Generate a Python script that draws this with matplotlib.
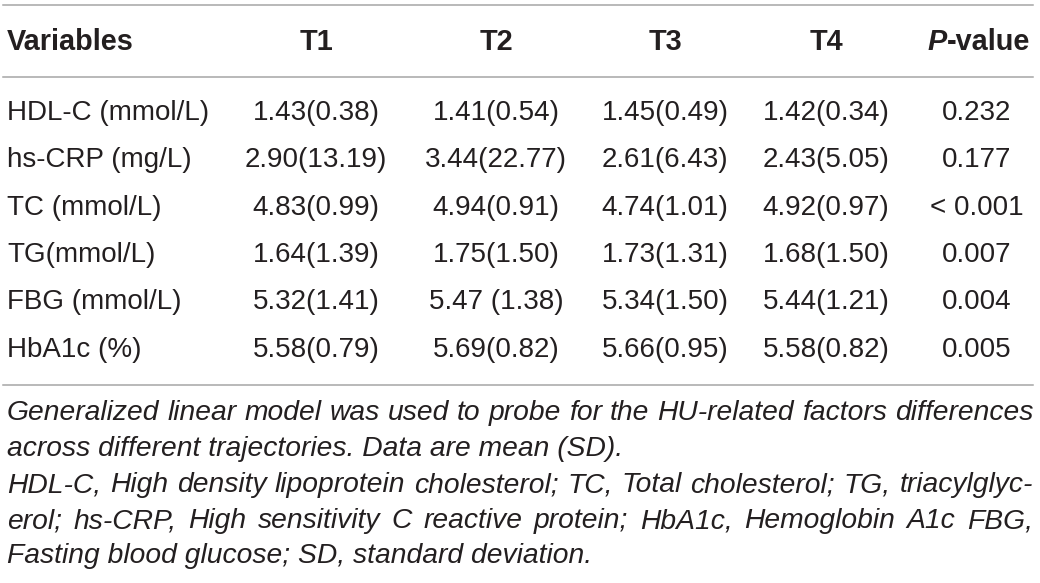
import matplotlib
matplotlib.use("Agg")
import matplotlib.pyplot as plt
from matplotlib.lines import Line2D

# table content
columns = ["Variables", "T1", "T2", "T3", "T4", "P-value"]
variables = ["HDL-C (mmol/L)", "hs-CRP (mg/L)", "TC (mmol/L)", "TG(mmol/L)",
             "FBG (mmol/L)", "HbA1c (%)"]
t1 = ["1.43(0.38)", "2.90(13.19)", "4.83(0.99)", "1.64(1.39)", "5.32(1.41)", "5.58(0.79)"]
t2 = ["1.41(0.54)", "3.44(22.77)", "4.94(0.91)", "1.75(1.50)", "5.47 (1.38)", "5.69(0.82)"]
t3 = ["1.45(0.49)", "2.61(6.43)", "4.74(1.01)", "1.73(1.31)", "5.34(1.50)", "5.66(0.95)"]
t4 = ["1.42(0.34)", "2.43(5.05)", "4.92(0.97)", "1.68(1.50)", "5.44(1.21)", "5.58(0.82)"]
pvals = ["0.232", "0.177", "< 0.001", "0.007", "0.004", "0.005"]
notes = [
    "Generalized linear model was used to probe for the HU-related factors differences",
    "across different trajectories. Data are mean (SD).",
    "HDL-C, High density lipoprotein cholesterol; TC, Total cholesterol; TG, triacylglyc-",
    "erol; hs-CRP, High sensitivity C reactive protein; HbA1c, Hemoglobin A1c FBG,",
    "Fasting blood glucose; SD, standard deviation.",
]
justified = [True, False, True, True, False]

W, H = 1040, 583
plt.rcParams["font.family"] = ["Liberation Sans", "DejaVu Sans"]
fig = plt.figure(figsize=(W / 100, H / 100), dpi=100)
fig.patch.set_facecolor("white")
renderer = fig.canvas.get_renderer()

txt = "#231f20"
rule = "#a6a6a6"


def fx(x):
    return x / W


def fy(y):
    return 1 - y / H


def width_px(t):
    return t.get_window_extent(renderer).width


def hline(y):
    fig.add_artist(Line2D([fx(3), fx(1033)], [fy(y), fy(y)], color=rule, lw=1.1))


hline(5)
hline(77)
hline(385)

col_x = [316, 496, 665, 826, 977]
head_y = 42
fs = 20
hfs = 20.8

fig.text(fx(7), fy(head_y), columns[0], ha="left", va="center", fontsize=hfs,
         fontweight="bold", color=txt)
for cx, name in zip(col_x[:4], columns[1:5]):
    fig.text(fx(cx), fy(head_y), name, ha="center", va="center", fontsize=hfs,
             fontweight="bold", color=txt)
# P-value header: italic P + bold "-value"
tv = fig.text(fx(1030), fy(head_y), "-value", ha="right", va="center", fontsize=hfs,
              fontweight="bold", color=txt)
wv = width_px(tv)
fig.text(fx(1030 - wv), fy(head_y), "P", ha="right", va="center", fontsize=hfs,
         fontweight="bold", style="italic", color=txt)

row_y = [113, 160, 208, 255, 302, 350]
for i, ry in enumerate(row_y):
    fig.text(fx(7), fy(ry), variables[i], ha="left", va="center", fontsize=fs, color=txt)
    for cx, vals in zip(col_x, [t1, t2, t3, t4, pvals]):
        fig.text(fx(cx), fy(ry), vals[i], ha="center", va="center", fontsize=fs, color=txt)

# footnote, justified like the journal layout
note_y = [413, 449, 485, 521, 556]
nfs = 20.3
left, right = 7, 1033
for ny, line, just in zip(note_y, notes, justified):
    if not just:
        fig.text(fx(left), fy(ny), line, ha="left", va="center", fontsize=nfs,
                 style="italic", color=txt)
        continue
    words = line.split(" ")
    items = [fig.text(0, 0, w, ha="left", va="center", fontsize=nfs, style="italic",
                      color=txt) for w in words]
    widths = [width_px(t) for t in items]
    gap = (right - left - sum(widths)) / (len(words) - 1)
    x = left
    for t, w in zip(items, widths):
        t.set_position((fx(x), fy(ny)))
        x += w + gap

fig.savefig("out.png", dpi=100, facecolor="white")
